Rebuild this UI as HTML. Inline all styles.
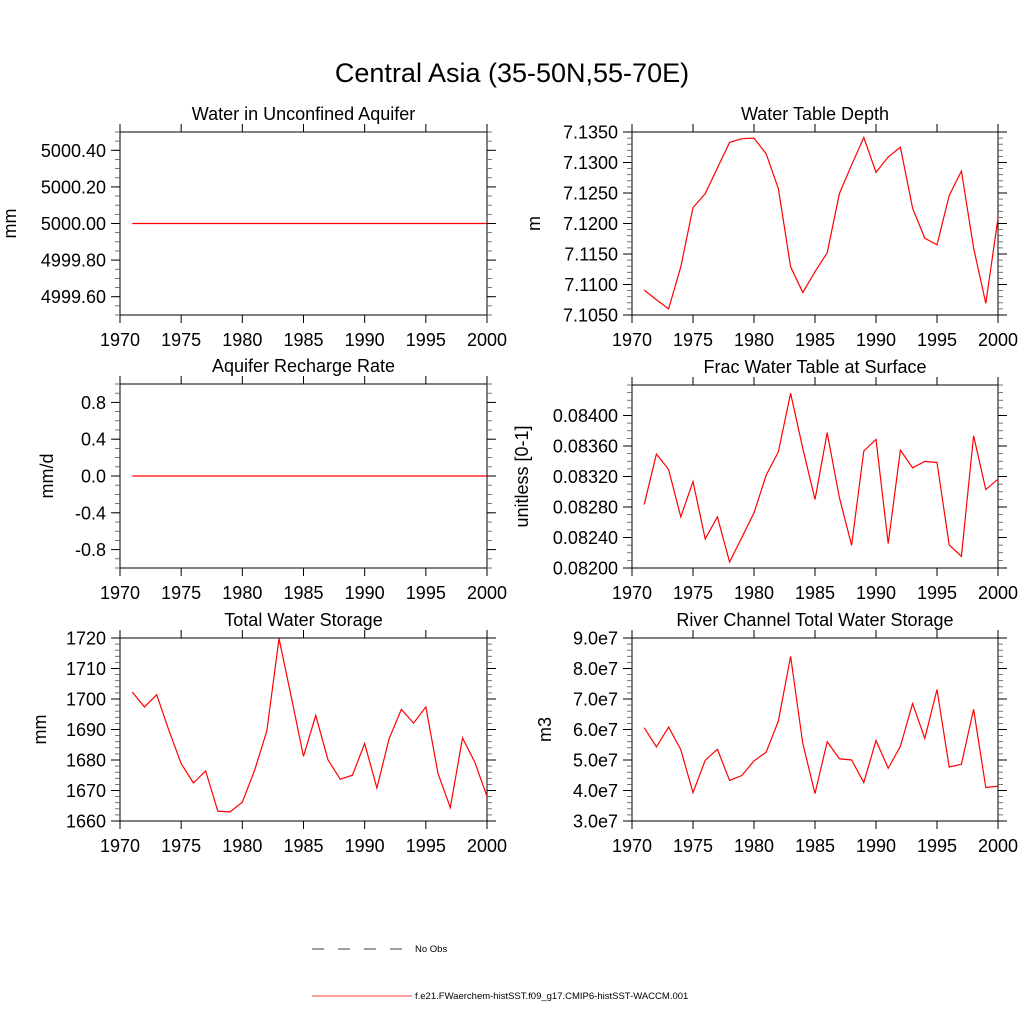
<!DOCTYPE html>
<html><head><meta charset="utf-8"><style>
html,body{margin:0;padding:0;background:#fff;}
svg{display:block;font-family:"Liberation Sans",sans-serif;}
</style></head><body>
<svg id="fig" width="1024" height="1024" viewBox="0 0 1024 1024">
<text x="512" y="82" font-size="27" text-anchor="middle">Central Asia (35-50N,55-70E)</text>
<g id="panels"></g>
<g>
<line x1="312" y1="949" x2="412" y2="949" stroke="#000" stroke-width="0.8" stroke-dasharray="12,14"/>
<text x="415" y="952" font-size="9.5">No Obs</text>
<line x1="312" y1="996" x2="412" y2="996" stroke="#f00" stroke-width="0.8"/>
<text x="415" y="999" font-size="9.5">f.e21.FWaerchem-histSST.f09_g17.CMIP6-histSST-WACCM.001</text>
</g>
</svg>
<script>
const years = [1971,1972,1973,1974,1975,1976,1977,1978,1979,1980,1981,1982,1983,1984,1985,1986,1987,1988,1989,1990,1991,1992,1993,1994,1995,1996,1997,1998,1999,2000];
const xTicks = [1970,1975,1980,1985,1990,1995,2000];
const aquiferWater = years.map(()=>5000.0);
const rechargeRate = years.map(()=>0.0);
const waterTableDepth = [7.1091,7.1075,7.1060,7.1129,7.1226,7.1249,7.1291,7.1333,7.1339,7.1340,7.1314,7.1257,7.1129,7.1087,7.1121,7.1152,7.1249,7.1296,7.1341,7.1284,7.1309,7.1325,7.1225,7.1176,7.1165,7.1246,7.1286,7.1160,7.1069,7.1209];
const fracWaterTable = [0.082832,0.083494,0.083292,0.082670,0.083135,0.082381,0.082670,0.082079,0.082399,0.082723,0.083218,0.083525,0.084291,0.083568,0.082898,0.083774,0.082924,0.082298,0.083533,0.083687,0.082320,0.083546,0.083314,0.083398,0.083384,0.082302,0.082153,0.083735,0.083029,0.083165];
const totalWaterStorage = [1702.3,1697.4,1701.4,1689.7,1678.8,1672.5,1676.4,1663.2,1663.0,1666.2,1676.6,1689.5,1719.8,1700.7,1681.2,1694.6,1680.1,1673.7,1675.0,1685.4,1670.8,1687.0,1696.6,1692.1,1697.4,1675.5,1664.4,1687.2,1679.3,1668.1];
const riverStorage = [6.06e7,5.43e7,6.08e7,5.34e7,3.93e7,4.99e7,5.35e7,4.33e7,4.49e7,4.97e7,5.26e7,6.28e7,8.40e7,5.54e7,3.90e7,5.60e7,5.04e7,5.00e7,4.26e7,5.64e7,4.73e7,5.45e7,6.85e7,5.71e7,7.31e7,4.77e7,4.86e7,6.66e7,4.10e7,4.14e7];
const ticksAquifer = [4999.6,4999.8,5000.0,5000.2,5000.4];
const labelsAquifer = ["4999.60","4999.80","5000.00","5000.20","5000.40"];
const ticksRecharge = [-0.8,-0.4,0.0,0.4,0.8];
const labelsRecharge = ["-0.8","-0.4","0.0","0.4","0.8"];
const ticksDepth = [7.105,7.110,7.115,7.120,7.125,7.130,7.135];
const labelsDepth = ["7.1050","7.1100","7.1150","7.1200","7.1250","7.1300","7.1350"];
const ticksFrac = [0.0820,0.0824,0.0828,0.0832,0.0836,0.0840];
const labelsFrac = ["0.08200","0.08240","0.08280","0.08320","0.08360","0.08400"];
const ticksTWS = [1660,1670,1680,1690,1700,1710,1720];
const labelsTWS = ["1660","1670","1680","1690","1700","1710","1720"];
const ticksRiver = [3e7,4e7,5e7,6e7,7e7,8e7,9e7];
const labelsRiver = ["3.0e7","4.0e7","5.0e7","6.0e7","7.0e7","8.0e7","9.0e7"];

const NS="http://www.w3.org/2000/svg";
const root=document.getElementById('panels');
function mk(tag,attrs,parent){const e=document.createElementNS(NS,tag);for(const k in attrs)e.setAttribute(k,attrs[k]);parent.appendChild(e);return e;}

function panel(cfg){
  const g=mk('g',{},root);
  
  
  const L=cfg.x0,R=cfg.x1,T=cfg.y0,B=cfg.y1;
  const xs=v=>L+(v-1970)/30*(R-L);
  const ys=v=>B-(v-cfg.ymin)/(cfg.ymax-cfg.ymin)*(B-T);
  const fr=mk('rect',{x:L,y:T,width:R-L,height:B-T,fill:'none',stroke:'#000','stroke-width':1},g);
  
  
  const t=mk('text',{x:(L+R)/2,y:T-12,'font-size':18,'text-anchor':'middle'},g);
  t.textContent=cfg.title;
  
  
  // x ticks
  xTicks.forEach(v=>{
    const x=xs(v);
    const a=mk('line',{x1:x,y1:B,x2:x,y2:B+8,stroke:'#000'},g);
    
    
    const b=mk('line',{x1:x,y1:T,x2:x,y2:T-8,stroke:'#000'},g);
    
    
    const l=mk('text',{x:x,y:B+31,'font-size':18,'text-anchor':'middle'},g);
    l.textContent=String(v);
    
    
  });
  // minor y ticks
  const step=cfg.minor;
  for(let v=cfg.ymin;v<=cfg.ymax+step*0.01;v+=step){
    const y=ys(v);
    const a=mk('line',{x1:L,y1:y,x2:L-5,y2:y,stroke:'#555','stroke-width':0.8},g);
    
    
    const b=mk('line',{x1:R,y1:y,x2:R+5,y2:y,stroke:'#555','stroke-width':0.8},g);
    
    
  }
  cfg.ticks.forEach((v,i)=>{
    const y=ys(v);
    const a=mk('line',{x1:L,y1:y,x2:L-9,y2:y,stroke:'#000'},g);
    
    
    const b=mk('line',{x1:R,y1:y,x2:R+9,y2:y,stroke:'#000'},g);
    
    
    const l=mk('text',{x:L-14,y:y+6.5,'font-size':18,'text-anchor':'end'},g);
    l.textContent=cfg.labels[i];
    
    
  });
  const yt=mk('text',{x:0,y:0,'font-size':18,'text-anchor':'middle',transform:`translate(${cfg.ytx},${(T+B)/2}) rotate(-90)`},g);
  yt.textContent=cfg.ytitle;
  
  
  const pts=years.map((yr,i)=>xs(yr).toFixed(2)+','+ys(cfg.data[i]).toFixed(2)).join(' ');
  const pl=mk('polyline',{points:pts,fill:'none',stroke:'#f00','stroke-width':1.2},g);
  
  
}
const LX0=120,LX1=487,RX0=632,RX1=998;
panel({name:'panel-aquifer-water',x0:LX0,x1:LX1,y0:132,y1:315,ymin:4999.5,ymax:5000.5,minor:0.05,ticks:ticksAquifer,labels:labelsAquifer,data:aquiferWater,title:'Water in Unconfined Aquifer',ytitle:'mm',ytx:16});
panel({name:'panel-water-table-depth',x0:RX0,x1:RX1,y0:132,y1:315,ymin:7.105,ymax:7.135,minor:0.001,ticks:ticksDepth,labels:labelsDepth,data:waterTableDepth,title:'Water Table Depth',ytitle:'m',ytx:540});
panel({name:'panel-recharge-rate',x0:LX0,x1:LX1,y0:384,y1:568,ymin:-1,ymax:1,minor:0.1,ticks:ticksRecharge,labels:labelsRecharge,data:rechargeRate,title:'Aquifer Recharge Rate',ytitle:'mm/d',ytx:53});
panel({name:'panel-frac-water-table',x0:RX0,x1:RX1,y0:385,y1:568,ymin:0.0820,ymax:0.0844,minor:0.0001,ticks:ticksFrac,labels:labelsFrac,data:fracWaterTable,title:'Frac Water Table at Surface',ytitle:'unitless [0-1]',ytx:528});
panel({name:'panel-total-water-storage',x0:LX0,x1:LX1,y0:638,y1:821,ymin:1660,ymax:1720,minor:2,ticks:ticksTWS,labels:labelsTWS,data:totalWaterStorage,title:'Total Water Storage',ytitle:'mm',ytx:46});
panel({name:'panel-river-storage',x0:RX0,x1:RX1,y0:638,y1:821,ymin:3e7,ymax:9e7,minor:2e6,ticks:ticksRiver,labels:labelsRiver,data:riverStorage,title:'River Channel Total Water Storage',ytitle:'m3',ytx:551});
</script>
</body></html>
